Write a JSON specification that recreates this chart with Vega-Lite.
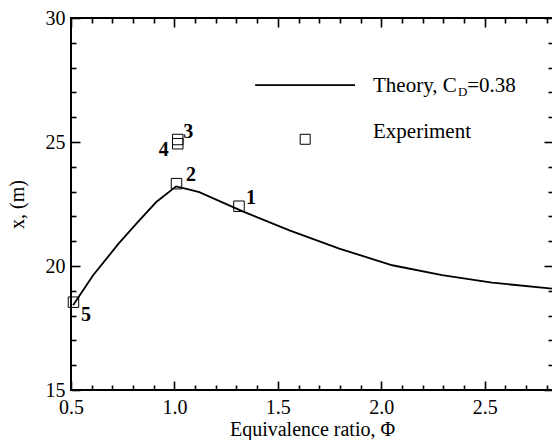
{
  "$schema": "https://vega.github.io/schema/vega-lite/v6.json",
  "width": 482,
  "height": 372,
  "autosize": "none",
  "padding": {"left": 71, "top": 18, "right": 0, "bottom": 50},
  "background": "white",
  "config": {
    "view": {"stroke": "black", "strokeWidth": 2},
    "axis": {
      "labelFont": "Liberation Serif, Times New Roman, Times, serif", "labelFontSize": 20, "labelColor": "black",
      "titleFont": "Liberation Serif, Times New Roman, Times, serif", "titleFontSize": 20, "titleFontWeight": "normal", "titleColor": "black",
      "tickColor": "black", "tickWidth": 1.6, "domain": false, "grid": false,
      "labelFlush": false, "labelOverlap": false
    }
  },
  "datasets": {
    "theory": [
      {"phi": 0.51, "x": 18.42}, {"phi": 0.607, "x": 19.63}, {"phi": 0.73, "x": 20.9},
      {"phi": 0.816, "x": 21.71}, {"phi": 0.912, "x": 22.58}, {"phi": 1.008, "x": 23.21},
      {"phi": 1.073, "x": 23.08}, {"phi": 1.12, "x": 22.98}, {"phi": 1.33, "x": 22.2},
      {"phi": 1.556, "x": 21.44}, {"phi": 1.797, "x": 20.7}, {"phi": 1.893, "x": 20.45},
      {"phi": 2.053, "x": 20.03}, {"phi": 2.294, "x": 19.63}, {"phi": 2.535, "x": 19.33},
      {"phi": 2.83, "x": 19.08}
    ],
    "experiment": [
      {"id": "1", "phi": 1.312, "x": 22.41, "lphi": 1.37, "lx": 22.76},
      {"id": "2", "phi": 1.01, "x": 23.32, "lphi": 1.08, "lx": 23.68},
      {"id": "3", "phi": 1.016, "x": 25.1, "lphi": 1.067, "lx": 25.41},
      {"id": "4", "phi": 1.016, "x": 24.93, "lphi": 0.948, "lx": 24.69},
      {"id": "5", "phi": 0.512, "x": 18.54, "lphi": 0.572, "lx": 18.01}
    ],
    "legendline": [{"phi": 1.39, "phi2": 1.873, "x": 27.29}],
    "legendpoint": [{"phi": 1.632, "x": 25.11}],
    "legendtext": [
      {"t": "Theory, C", "phi": 1.96, "x": 27.0, "size": 21},
      {"t": "D", "phi": 2.371, "x": 26.86, "size": 13},
      {"t": "=0.38", "phi": 2.415, "x": 27.0, "size": 21},
      {"t": "Experiment", "phi": 1.96, "x": 25.17, "size": 21}
    ]
  },
  "resolve": {"axis": {"x": "independent", "y": "independent"}},
  "layer": [
    {
      "data": {"name": "theory"},
      "mark": {"type": "line", "color": "black", "strokeWidth": 1.8},
      "encoding": {
        "x": {"field": "phi", "type": "quantitative",
              "scale": {"domain": [0.5, 2.83], "nice": false, "zero": false},
              "axis": {"orient": "bottom", "values": [0.5, 1, 1.5, 2, 2.5], "format": ".1f",
                       "tickSize": -9, "labelPadding": 16, "title": "Equivalence ratio, Φ", "titlePadding": 2}},
        "y": {"field": "x", "type": "quantitative",
              "scale": {"domain": [15, 30], "nice": false, "zero": false},
              "axis": {"orient": "left", "values": [15, 20, 25, 30], "tickSize": -9, "labelPadding": 15,
                       "title": "x, (m)", "titlePadding": 18}}
      }
    },
    {
      "data": {"name": "experiment"},
      "mark": {"type": "point", "shape": "square", "filled": false, "color": "black", "strokeWidth": 1, "size": 110, "opacity": 1},
      "encoding": {
        "x": {"field": "phi", "type": "quantitative",
              "scale": {"domain": [0.5, 2.83], "nice": false, "zero": false},
              "axis": {"orient": "bottom", "values": [0.6, 0.7, 0.8, 0.9, 1.1, 1.2, 1.3, 1.4, 1.6, 1.7, 1.8, 1.9, 2.1, 2.2, 2.3, 2.4, 2.6, 2.7, 2.8],
                       "tickSize": -5, "labels": false, "title": null}},
        "y": {"field": "x", "type": "quantitative",
              "scale": {"domain": [15, 30], "nice": false, "zero": false},
              "axis": {"orient": "left", "values": [16, 17, 18, 19, 21, 22, 23, 24, 26, 27, 28, 29],
                       "tickSize": -5, "labels": false, "title": null}}
      }
    },
    {
      "data": {"name": "experiment"},
      "mark": {"type": "text", "font": "Liberation Serif, Times New Roman, Times, serif", "fontSize": 20, "fontWeight": "bold", "color": "black", "align": "center", "baseline": "middle"},
      "encoding": {
        "x": {"field": "lphi", "type": "quantitative",
              "scale": {"domain": [0.5, 2.83], "nice": false, "zero": false},
              "axis": {"orient": "top", "values": [0.5, 1, 1.5, 2, 2.5], "tickSize": -9, "labels": false, "title": null}},
        "y": {"field": "lx", "type": "quantitative",
              "scale": {"domain": [15, 30], "nice": false, "zero": false},
              "axis": {"orient": "right", "values": [15, 20, 25, 30], "tickSize": -9, "labels": false, "title": null}},
        "text": {"field": "id"}
      }
    },
    {
      "data": {"name": "legendline"},
      "mark": {"type": "rule", "color": "black", "strokeWidth": 1.8},
      "encoding": {
        "x": {"field": "phi", "type": "quantitative",
              "scale": {"domain": [0.5, 2.83], "nice": false, "zero": false},
              "axis": {"orient": "top", "values": [0.6, 0.7, 0.8, 0.9, 1.1, 1.2, 1.3, 1.4, 1.6, 1.7, 1.8, 1.9, 2.1, 2.2, 2.3, 2.4, 2.6, 2.7, 2.8],
                       "tickSize": -5, "labels": false, "title": null}},
        "x2": {"field": "phi2"},
        "y": {"field": "x", "type": "quantitative",
              "scale": {"domain": [15, 30], "nice": false, "zero": false},
              "axis": {"orient": "right", "values": [16, 17, 18, 19, 21, 22, 23, 24, 26, 27, 28, 29],
                       "tickSize": -5, "labels": false, "title": null}}
      }
    },
    {
      "data": {"name": "legendpoint"},
      "mark": {"type": "point", "shape": "square", "filled": false, "color": "black", "strokeWidth": 1, "size": 100, "opacity": 1},
      "encoding": {
        "x": {"field": "phi", "type": "quantitative", "scale": {"domain": [0.5, 2.83], "nice": false, "zero": false}, "axis": null},
        "y": {"field": "x", "type": "quantitative", "scale": {"domain": [15, 30], "nice": false, "zero": false}, "axis": null}
      }
    },
    {
      "data": {"name": "legendtext"},
      "mark": {"type": "text", "font": "Liberation Serif, Times New Roman, Times, serif", "color": "black", "align": "left", "baseline": "alphabetic"},
      "encoding": {
        "x": {"field": "phi", "type": "quantitative", "scale": {"domain": [0.5, 2.83], "nice": false, "zero": false}, "axis": null},
        "y": {"field": "x", "type": "quantitative", "scale": {"domain": [15, 30], "nice": false, "zero": false}, "axis": null},
        "text": {"field": "t"},
        "size": {"field": "size", "type": "quantitative", "scale": null}
      }
    }
  ]
}
